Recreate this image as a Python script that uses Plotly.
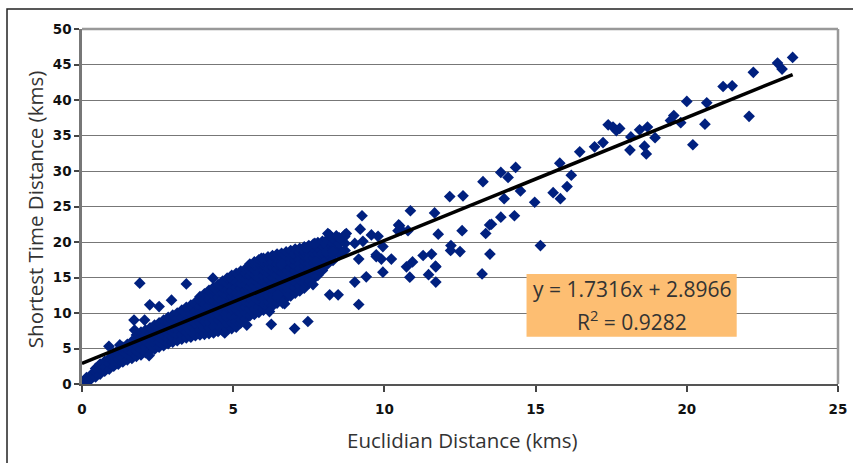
import plotly.graph_objects as go

# ---------------- data ----------------
# dense band: x positions and the y values stacked at each x
band_x = [0.15, 0.3, 0.45, 0.6, 0.75, 0.9, 1.05, 1.2, 1.35, 1.5, 1.65, 1.8, 1.95,
          2.1, 2.25, 2.4, 2.55, 2.7, 2.85, 3.0, 3.15, 3.3, 3.45, 3.6, 3.75, 3.9,
          4.05, 4.2, 4.35, 4.5, 4.65, 4.8, 4.95, 5.1, 5.25, 5.4, 5.55, 5.7, 5.85,
          6.0, 6.15, 6.3, 6.45, 6.6, 6.75, 6.9, 7.05, 7.2, 7.35, 7.5, 7.65, 7.8,
          7.95, 8.1, 8.3, 8.5, 8.7]
band_y = [
    [0.3, 0.9], [0.7, 1.3], [1.0, 1.7, 2.2], [1.4, 2.1, 2.8], [1.8, 2.5, 3.2],
    [2.1, 2.9, 3.6], [2.5, 3.2, 3.9, 4.4], [2.8, 3.5, 4.2, 4.8], [3.1, 3.8, 4.6, 5.2],
    [3.4, 4.1, 4.9, 5.6], [3.6, 4.4, 5.2, 6.0], [3.9, 4.7, 5.5, 6.3, 6.9],
    [4.1, 4.9, 5.8, 6.6, 7.3], [4.4, 5.2, 6.0, 6.9, 7.6], [4.7, 5.5, 6.3, 7.2, 7.9],
    [4.9, 5.6, 6.3, 7.0, 7.7, 8.3],
    [5.2, 5.9, 6.6, 7.3, 8.0, 8.6],
    [5.4, 6.1, 6.8, 7.5, 8.2, 9.0],
    [5.7, 6.4, 7.1, 7.8, 8.6, 9.4],
    [5.9, 6.6, 7.3, 8.0, 8.8, 9.7],
    [6.1, 6.9, 7.7, 8.5, 9.3, 10.0],
    [6.3, 7.0, 7.8, 8.6, 9.4, 10.4],
    [6.5, 7.3, 8.1, 8.9, 9.8, 10.8],
    [6.6, 7.4, 8.2, 9.0, 9.9, 10.7, 11.1],
    [6.8, 7.6, 8.5, 9.4, 10.3, 11.2, 11.5],
    [6.9, 7.7, 8.5, 9.3, 10.1, 10.9, 11.7, 12.3],
    [7.0, 7.9, 8.8, 9.7, 10.5, 11.3, 12.1, 12.7],
    [7.1, 7.9, 8.7, 9.5, 10.3, 11.1, 11.9, 12.6, 13.2],
    [7.2, 8.1, 9.0, 9.9, 10.8, 11.7, 12.5, 13.2, 13.6],
    [7.4, 8.2, 9.0, 9.8, 10.6, 11.4, 12.2, 13.0, 13.7, 14.0],
    [7.5, 8.4, 9.3, 10.2, 11.1, 12.0, 12.8, 13.6, 14.5],
    [7.7, 8.5, 9.3, 10.1, 10.9, 11.7, 12.5, 13.3, 14.1, 14.9],
    [7.8, 8.7, 9.6, 10.5, 11.4, 12.3, 13.1, 13.9, 14.7, 15.3],
    [8.0, 8.8, 9.6, 10.4, 11.2, 12.0, 12.8, 13.6, 14.4, 15.1, 15.6],
    [8.6, 9.1, 10.0, 10.9, 11.8, 12.6, 13.4, 14.2, 15.0, 15.9],
    [9.2, 10.0, 10.8, 11.6, 12.4, 13.2, 14.0, 14.8, 15.6, 16.2],
    [9.6, 10.5, 11.3, 12.1, 12.9, 13.7, 14.5, 15.3, 16.0, 16.5, 16.9],
    [9.8, 10.6, 11.4, 12.2, 13.0, 13.8, 14.6, 15.4, 16.1, 16.8, 17.2],
    [10.1, 10.9, 11.7, 12.5, 13.3, 14.1, 14.9, 15.7, 16.4, 17.0, 17.5],
    [10.4, 11.2, 12.0, 12.8, 13.6, 14.4, 15.2, 16.0, 16.7, 17.2, 17.7],
    [10.8, 11.6, 12.4, 13.2, 14.0, 14.8, 15.6, 16.3, 17.0, 17.4, 17.9],
    [11.0, 11.8, 12.6, 13.4, 14.2, 15.0, 15.8, 16.5, 17.2, 17.6, 18.1],
    [11.4, 12.2, 13.0, 13.8, 14.6, 15.4, 16.2, 16.9, 17.5, 17.8, 18.3],
    [11.7, 12.5, 13.3, 14.1, 14.9, 15.7, 16.5, 17.2, 17.9, 18.4],
    [12.1, 12.9, 13.7, 14.5, 15.3, 16.1, 16.9, 17.5, 18.0, 18.6],
    [12.4, 13.2, 14.0, 14.8, 15.6, 16.4, 17.1, 17.7, 18.2, 18.8],
    [12.8, 13.6, 14.4, 15.2, 16.0, 16.7, 17.4, 18.0, 18.4, 19.0],
    [13.1, 13.9, 14.7, 15.5, 16.3, 17.0, 17.7, 18.3, 18.6, 19.1],
    [13.5, 14.3, 15.1, 15.9, 16.6, 17.3, 18.0, 18.5, 18.8, 19.3],
    [14.2, 14.9, 15.5, 16.3, 17.0, 17.7, 18.4, 19.0, 19.5],
    [14.8, 15.4, 16.2, 17.0, 17.7, 18.4, 19.1, 19.7],
    [15.3, 16.1, 16.9, 17.7, 18.4, 19.2, 19.9],
    [16.0, 16.8, 17.6, 18.4, 19.4, 20.1],
    [16.8, 17.6, 18.4, 19.3, 20.3],
    [17.4, 18.2, 19.0, 19.8, 20.5],
    [18.2, 19.0, 19.8, 20.6],
    [18.8, 19.8],
]

# scattered points
spread_x = [0.0, 0.89, 1.25, 1.72, 2.07, 1.74, 2.22, 1.91, 2.24, 2.55, 2.96, 3.45, 4.33,
            4.72, 5.93, 6.59, 7.75, 7.53, 7.64, 6.48, 6.2, 6.26, 6.7, 7.03, 7.47,
            5.45, 6.64,
            7.42, 7.7, 8.08, 8.3, 8.13, 8.41, 8.74, 8.19, 8.69, 8.3, 8.19, 8.47, 9.02, 9.15,
            9.26, 9.2, 8.69, 8.52, 9.02, 9.29, 9.57, 9.79, 9.95, 9.73, 9.9, 10.23, 9.15,
            9.95, 9.4, 9.73, 10.5, 10.78, 10.45, 10.47, 10.56,
            10.86, 11.66, 12.16, 12.6, 12.57, 11.78, 12.2, 12.19, 12.5, 11.69, 11.56, 11.28,
            11.46, 10.84, 10.73, 10.93, 11.7, 11.7,
            13.26, 13.85, 14.09, 14.34, 14.5, 13.96, 14.3, 13.85, 13.48, 13.54, 13.35, 13.49,
            13.23, 14.97, 15.16,
            15.58, 15.82, 16.04, 16.18, 15.8, 16.46, 16.95, 17.23, 17.4, 17.56, 17.78, 17.67,
            18.15, 18.12, 18.44, 18.7, 18.6, 18.66, 18.95, 19.46, 19.57, 19.8, 20.0, 20.2,
            20.66, 20.6, 21.2, 21.5, 22.06, 22.2, 23.0, 23.15, 23.5]
spread_y = [0.0, 5.3, 5.5, 9.0, 9.0, 7.6, 4.0, 14.2, 11.15, 10.9, 11.8, 14.1, 14.9,
            7.2, 17.7, 16.8, 17.25, 14.4, 14.0, 12.6, 10.2, 8.4, 11.3, 7.8, 8.8,
            8.3, 11.4,
            19.1, 19.8, 18.65, 18.9, 21.2, 20.86, 21.2, 21.0, 20.76, 18.65, 12.56, 12.56, 14.35, 11.2,
            23.7, 21.8, 21.0, 20.5, 19.8, 20.1, 21.0, 20.8, 19.35, 18.2, 17.6, 17.6, 17.6,
            15.75, 15.1, 17.95, 22.3, 21.6, 21.6, 22.4, 21.7,
            24.4, 24.1, 26.4, 26.5, 21.6, 21.1, 19.5, 18.8, 18.65, 16.6, 18.3, 18.1,
            15.4, 15.05, 16.5, 17.2, 14.35, 16.5,
            28.5, 29.8, 29.1, 30.5, 27.2, 26.1, 23.7, 23.5, 22.4, 22.5, 21.2, 18.3,
            15.5, 25.6, 19.5,
            26.95, 26.1, 27.8, 29.4, 31.1, 32.7, 33.4, 34.0, 36.5, 36.2, 36.0, 35.7,
            34.8, 32.95, 35.8, 36.2, 33.5, 32.4, 34.7, 37.1, 37.8, 36.8, 39.8, 33.7,
            39.6, 36.6, 41.9, 42.0, 37.7, 43.9, 45.2, 44.35, 46.0]

# fitted trend line shown in the chart
slope = 1.7316
intercept = 2.8966
fit_x = [0.0, 23.5]
eq_text = "y = 1.7316x + 2.8966"
r2_text = "R<sup>2</sup> = 0.9282"

x_ticks = [0, 5, 10, 15, 20, 25]
y_ticks = [0, 5, 10, 15, 20, 25, 30, 35, 40, 45, 50]

# ---------------- build ----------------
pts_x, pts_y = [], []
for xv, ys in zip(band_x, band_y):
    for yv in ys:
        pts_x.append(xv)
        pts_y.append(yv)
pts_x += spread_x
pts_y += spread_y

fit_y = [slope * v + intercept for v in fit_x]

NAVY = "#00207f"
fig = go.Figure()
fig.add_trace(go.Scatter(
    x=pts_x, y=pts_y, mode="markers",
    marker=dict(symbol="diamond", size=9, color=NAVY, line=dict(width=0)),
    hoverinfo="skip", showlegend=False))
fig.add_trace(go.Scatter(
    x=fit_x, y=fit_y, mode="lines",
    line=dict(color="black", width=3.5), hoverinfo="skip", showlegend=False))

tickfont = dict(family="DejaVu Sans", size=13.5, color="#111", weight="bold")
fig.update_layout(
    width=853, height=463,
    margin=dict(l=82, r=15, t=29, b=79, autoexpand=False),
    paper_bgcolor="white", plot_bgcolor="white",
    xaxis=dict(range=[0, 25], tickvals=x_ticks, ticktext=[str(v) for v in x_ticks],
               showgrid=False, zeroline=False, automargin=False,
               showline=True, linecolor="#555", linewidth=2,
               ticks="outside", ticklen=6, tickwidth=1.5, tickcolor="#444",
               ticklabelstandoff=6, tickfont=tickfont),
    yaxis=dict(range=[0, 50], tickvals=y_ticks, ticktext=[str(v) for v in y_ticks],
               showgrid=True, gridcolor="#777", automargin=False,
               gridwidth=1, zeroline=False,
               showline=True, linecolor="#777", linewidth=2.5,
               ticks="outside", ticklen=5, tickwidth=1.5, tickcolor="#444",
               tickfont=tickfont),
    font=dict(family="Open Sans", color="#333"),
)

# plot-area top/right border
fig.add_shape(type="line", xref="paper", yref="paper", x0=0, x1=1, y0=1, y1=1,
              line=dict(color="#999", width=2.5))
fig.add_shape(type="line", xref="paper", yref="paper", x0=1, x1=1, y0=0, y1=1,
              line=dict(color="#999", width=2.5))
# outer chart frame
fig.add_shape(type="rect", xref="paper", yref="paper",
              x0=-0.0992, x1=1.04, y0=-0.25, y1=1.056,
              line=dict(color="#222", width=1.5))

# equation box
fig.add_shape(type="rect", xref="x", yref="y", x0=14.7, x1=21.65, y0=6.65, y1=15.5,
              fillcolor="#fdbe72", line=dict(width=0), layer="above")
fig.add_annotation(x=18.18, y=13.35, xref="x", yref="y", text=eq_text, showarrow=False,
                   xanchor="center", yanchor="middle",
                   font=dict(family="Open Sans", size=21, color="#333"))
fig.add_annotation(x=18.18, y=9.0, xref="x", yref="y", text=r2_text, showarrow=False,
                   xanchor="center", yanchor="middle",
                   font=dict(family="Open Sans", size=21, color="#333"))

# axis titles
fig.add_annotation(x=0.503, y=-0.158, xref="paper", yref="paper",
                   xanchor="center", yanchor="middle",
                   text="Euclidian Distance (kms)", showarrow=False,
                   font=dict(family="Open Sans", size=20.5, color="#333"))
fig.add_annotation(x=-0.062, y=0.49, xref="paper", yref="paper", textangle=-90,
                   xanchor="center", yanchor="middle",
                   text="Shortest Time Distance (kms)", showarrow=False,
                   font=dict(family="Open Sans", size=20.5, color="#333"))

fig.write_html("out.html", config={"displayModeBar": False},
               post_script="document.body.style.margin='0';document.body.style.padding='0';")
